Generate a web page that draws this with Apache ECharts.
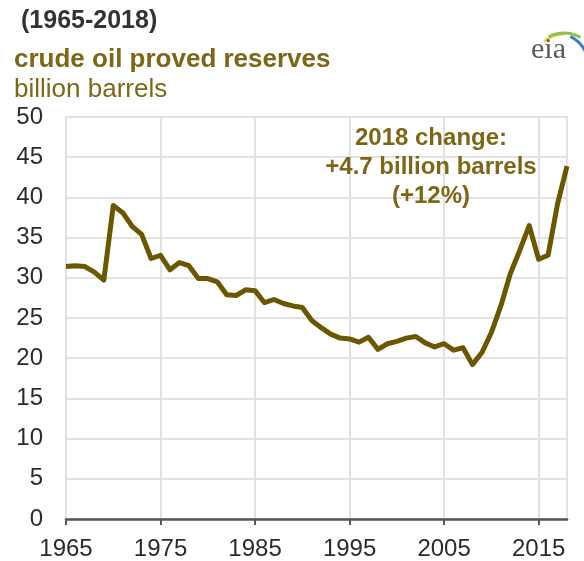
<!DOCTYPE html>
<html>
<head>
<meta charset="utf-8">
<script src="https://cdn.jsdelivr.net/npm/echarts@6/dist/echarts.min.js"></script>
<style>
  html, body { margin: 0; padding: 0; background: #fff; }
  #chart { width: 584px; height: 561px; }
</style>
</head>
<body>
<div id="chart"></div>
<script>
const years = []
for (let y = 1965; y <= 2018; y++) years.push(String(y))

// billion barrels
const reserves = [
  31.4, 31.5, 31.4, 30.7, 29.7, 39.0, 38.1, 36.4, 35.4, 32.4,
  32.8, 31.0, 31.9, 31.5, 29.9, 29.9, 29.5, 27.9, 27.8, 28.5,
  28.4, 26.9, 27.3, 26.8, 26.5, 26.3, 24.7, 23.8, 23.0, 22.5,
  22.4, 22.0, 22.6, 21.1, 21.8, 22.1, 22.5, 22.7, 21.9, 21.4,
  21.8, 21.0, 21.3, 19.2, 20.7, 23.2, 26.5, 30.5, 33.4, 36.5,
  32.3, 32.8, 39.2, 43.9
]

const yTicks = { min: 0, max: 50, step: 5 }
const labelYears = ['1965', '1975', '1985', '1995', '2005', '2015']

const titleLines = ['(1965-2018)', 'crude oil proved reserves', 'billion barrels']
const noteLines = ['2018 change:', '+4.7 billion barrels', '(+12%)']

const olive = '#6a5700'
const textOlive = '#7d6616'
const grid = '#e2e2e2'
const font = 'Liberation Sans, Arial, sans-serif'

const isLabelled = (i) => labelYears.indexOf(years[i]) !== -1

const chart = echarts.init(document.getElementById('chart'))

const option = {
  backgroundColor: '#fff',
  animation: false,
  grid: {
    left: 66,
    right: 17,
    top: 117,
    bottom: 42,
    show: true,
    borderColor: grid,
    borderWidth: 2
  },
  xAxis: {
    type: 'category',
    data: years,
    boundaryGap: false,
    axisLine: { lineStyle: { color: '#555', width: 2.5 } },
    axisTick: { interval: isLabelled, length: 6, lineStyle: { color: '#555', width: 2 } },
    axisLabel: {
      interval: isLabelled,
      color: '#2b2b2b',
      fontFamily: font,
      fontSize: 24,
      margin: 18
    },
    splitLine: { show: true, interval: isLabelled, lineStyle: { color: grid, width: 2 } }
  },
  yAxis: {
    type: 'value',
    min: yTicks.min,
    max: yTicks.max,
    interval: yTicks.step,
    axisLine: { show: false },
    axisTick: { show: false },
    axisLabel: { color: '#2b2b2b', fontFamily: font, fontSize: 24, margin: 23 },
    splitLine: { lineStyle: { color: grid, width: 2 } }
  },
  series: [
    {
      type: 'line',
      data: reserves,
      showSymbol: false,
      lineStyle: { color: olive, width: 5, join: 'round' },
      z: 5
    }
  ],
  graphic: [
    {
      type: 'text', left: 21, top: 9,
      style: { text: titleLines[0], fill: '#333', font: 'bold 25px ' + font }
    },
    {
      type: 'text', left: 14, top: 47,
      style: { text: titleLines[1], fill: textOlive, font: 'bold 26px ' + font }
    },
    {
      type: 'text', left: 14, top: 77,
      style: { text: titleLines[2], fill: textOlive, font: '26px ' + font }
    },
    {
      type: 'text', x: 431, y: 124,
      style: {
        text: noteLines.join('\n'),
        fill: textOlive,
        font: 'bold 24px ' + font,
        align: 'center',
        lineHeight: 29
      },
      z: 10
    },
    // eia logo
    {
      type: 'arc',
      shape: { cx: 564, cy: 64, r: 30, startAngle: -2.3, endAngle: -1.55 },
      style: { stroke: '#e8d84a', lineWidth: 3, fill: null }
    },
    {
      type: 'arc',
      shape: { cx: 564, cy: 66, r: 33, startAngle: -2.05, endAngle: -1.05 },
      style: { stroke: '#8cc04a', lineWidth: 3, fill: null }
    },
    {
      type: 'arc',
      shape: { cx: 558, cy: 64, r: 30, startAngle: -1.15, endAngle: -0.05 },
      style: { stroke: '#3a7fc4', lineWidth: 3, fill: null }
    },
    {
      type: 'text', left: 531, top: 35,
      style: { text: 'eia', fill: '#5a5a5a', font: '30px Liberation Serif, DejaVu Serif, serif' }
    }
  ]
}

chart.setOption(option)
</script>
</body>
</html>
